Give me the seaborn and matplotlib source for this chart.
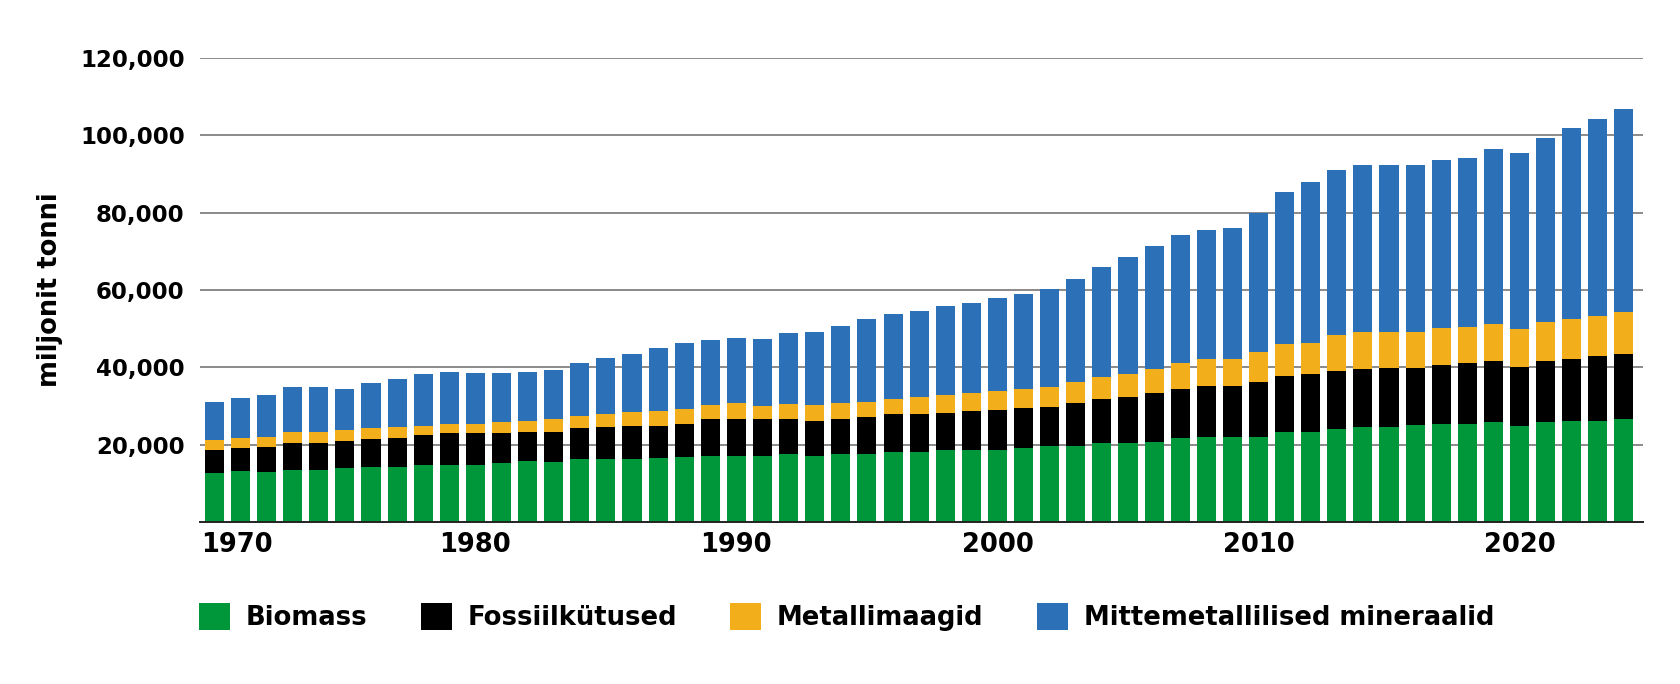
import numpy as np
import pandas as pd
import matplotlib
matplotlib.use("Agg")
import matplotlib.pyplot as plt
from matplotlib.patches import Patch
from matplotlib.transforms import ScaledTranslation
import seaborn as sns

years = list(range(1970, 2025))

biomass = [12750, 13120, 13030, 13490, 13490, 13860, 14320, 14230, 14690, 14690,
           14690, 15150, 15700, 15520, 16260, 16350, 16350, 16440, 16810, 17090,
           17090, 17090, 17550, 17090, 17550, 17460, 18200, 18200, 18660, 18660,
           18750, 19220, 19580, 19580, 20320, 20320, 20690, 21620, 21990, 21890,
           21890, 23280, 23280, 24110, 24570, 24480, 25040, 25400, 25400, 25770,
           24940, 25770, 26140, 26140, 26600]
fossil_top = [18750, 19030, 19490, 20420, 20510, 20880, 21340, 21800, 22540, 22910,
              22910, 22910, 23280, 23370, 24200, 24570, 24940, 24940, 25400, 26510,
              26510, 26510, 26510, 26140, 26510, 27070, 27810, 27810, 28180, 28640,
              29010, 29470, 29840, 30670, 31870, 32330, 33440, 34460, 35200, 35200,
              36120, 37690, 38250, 38980, 39450, 39820, 39820, 40550, 41020, 41760,
              40190, 41760, 42220, 43050, 43420]
metal_top = [21250, 21800, 22080, 23280, 23280, 23740, 24200, 24570, 24850, 25310,
             25400, 25770, 26140, 26600, 27440, 27900, 28360, 28730, 29190, 30300,
             30760, 30120, 30390, 30300, 30760, 31040, 31870, 32330, 32790, 33440,
             33900, 34370, 34830, 36120, 37600, 38340, 39630, 41110, 42220, 42220,
             43880, 45910, 46370, 48410, 49150, 49150, 49150, 50070, 50440, 51270,
             49980, 51640, 52560, 53300, 54230]
total = [31130, 31960, 32790, 34830, 34830, 34370, 36030, 36860, 38150, 38890,
         38520, 38520, 38890, 39350, 41020, 42310, 43420, 45080, 46370, 47110,
         47580, 47210, 48870, 49150, 50810, 52560, 53760, 54500, 55800, 56540,
         57920, 59030, 60230, 62820, 66050, 68550, 71320, 74180, 75570, 76030,
         80000, 85270, 87850, 91090, 92380, 92380, 92380, 93580, 94130, 96440,
         95340, 99400, 101890, 104300, 106790]

series_names = ["Biomass", "Fossiilkütused", "Metallimaagid", "Mittemetallilised mineraalid"]
colors = ["#00963A", "#000000", "#F3AE1B", "#2C71B8"]
yticks = [20000, 40000, 60000, 80000, 100000, 120000]
xtick_years = [1970, 1980, 1990, 2000, 2010, 2020]

df = pd.DataFrame({"year": years, "biomass": biomass, "fossil": fossil_top,
                   "metal": metal_top, "total": total})

sns.set_theme(style="white")
plt.rcParams["font.family"] = ["DejaVu Sans"]
plt.rcParams["font.weight"] = "bold"
plt.rcParams["text.color"] = "black"
plt.rcParams["axes.labelcolor"] = "black"

fig = plt.figure(figsize=(16.8, 6.84), dpi=100)
ax = fig.add_axes([200 / 1680, 1 - 522 / 684, 1443 / 1680, (522 - 58) / 684])

for col, c in zip(["total", "metal", "fossil", "biomass"], colors[::-1]):
    sns.barplot(data=df, x="year", y=col, color=c, saturation=1, width=0.73,
                ax=ax, edgecolor="none", linewidth=0, errorbar=None)

ax.set_xlim(-0.55, 54.73)
ax.set_ylim(0, 120000)
ax.set_yticks(yticks)
ax.set_yticklabels([f"{v:,}" for v in yticks], fontsize=16.5, fontweight="bold")
ax.yaxis.grid(True, color="#8a8a8a", linewidth=1.4)
ax.set_axisbelow(True)
xpos = [years.index(y) for y in xtick_years]
ax.set_xticks(xpos)
ax.set_xticklabels([str(y) for y in xtick_years], fontsize=18.5, fontweight="bold")
ax.tick_params(axis="both", length=0, colors="black")
ax.tick_params(axis="y", pad=11)
ax.tick_params(axis="x", pad=7)
first = ax.get_xticklabels()[0]
first.set_ha("left")
first.set_transform(first.get_transform() + ScaledTranslation(-0.135, 0, fig.dpi_scale_trans))

for s in ["top", "right", "left"]:
    ax.spines[s].set_visible(False)
ax.spines["bottom"].set_color("#222222")
ax.spines["bottom"].set_linewidth(1.4)

ax.set_xlabel("")
ax.set_ylabel("miljonit tonni", fontsize=18.5, fontweight="bold", color="black")
ax.yaxis.set_label_coords((63 - 200) / 1443, 0.5)

handles = [Patch(facecolor=c, edgecolor="none", label=n) for n, c in zip(series_names, colors)]
leg = fig.legend(handles=handles, loc="center left", bbox_to_anchor=(199 / 1680, 1 - 617 / 684),
                 ncol=4, frameon=False, prop={"weight": "bold", "size": 18.6},
                 handlelength=1.2, handleheight=1.24, handletextpad=0.62, columnspacing=2.05,
                 borderpad=0, borderaxespad=0)
for t in leg.get_texts():
    t.set_color("black")

fig.savefig("out.png", dpi=100, facecolor="white")
